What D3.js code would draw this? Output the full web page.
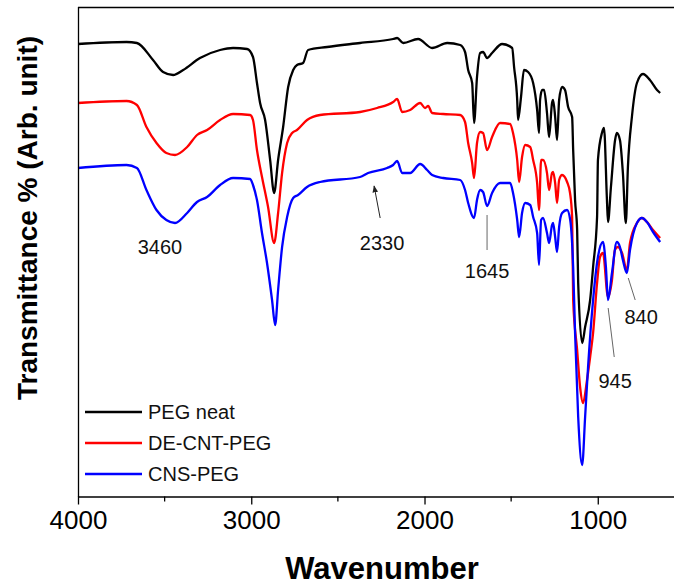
<!DOCTYPE html>
<html>
<head>
<meta charset="utf-8">
<script src="https://cdn.jsdelivr.net/npm/d3@7"></script>
<style>
  body { margin: 0; background: #fff; }
  svg { display: block; font-family: "Liberation Sans", Arial, sans-serif; }
</style>
</head>
<body>
<div id="chart"></div>
<script>
'use strict';

// FTIR spectra (wavenumber in cm-1, transmittance in arb. units)
var pegWn = [4000, 3720, 3660, 3567, 3509, 3451, 3393, 3296, 3180, 3105, 3024, 2990, 2967, 2949, 2920, 2891, 2868, 2845, 2816, 2787, 2758, 2736, 2701, 2672, 2562, 2372, 2181, 2158, 2123, 2037, 1956, 1869, 1794, 1766, 1748, 1725, 1714, 1697, 1679, 1662, 1639, 1610, 1552, 1494, 1483, 1465, 1460, 1443, 1426, 1402, 1373, 1350, 1339, 1333, 1321, 1310, 1293, 1281, 1264, 1258, 1246, 1235, 1223, 1206, 1189, 1171, 1148, 1142, 1131, 1119, 1113, 1090, 1073, 1044, 1027, 1004, 999, 976, 964, 947, 941, 924, 900, 890, 872, 855, 838, 826, 803, 774, 739, 699, 658, 640];
var pegT = [90.6, 91.0, 90.8, 87.4, 85.0, 84.4, 85.4, 87.8, 89.4, 89.8, 89.6, 88.0, 82.8, 78.8, 75.4, 67.4, 60.8, 67.4, 74.0, 82.0, 85.4, 86.4, 86.8, 89.4, 90.0, 90.8, 91.6, 91.8, 90.8, 91.6, 89.8, 90.8, 90.4, 89.0, 85.4, 82.8, 74.8, 84.0, 88.8, 89.0, 87.8, 88.8, 90.6, 89.8, 86.0, 79.4, 75.4, 80.0, 85.4, 85.0, 82.8, 77.4, 72.8, 79.4, 81.4, 81.4, 76.8, 72.0, 78.8, 79.4, 76.0, 71.4, 79.4, 82.0, 81.4, 78.0, 76.0, 69.4, 59.4, 53.4, 42.8, 30.8, 34.0, 39.4, 46.0, 56.0, 67.4, 72.8, 73.8, 59.4, 55.0, 62.0, 71.4, 72.8, 71.4, 64.8, 54.8, 66.0, 76.0, 82.8, 84.6, 83.4, 81.4, 80.8];

var decntWn = [4000, 3720, 3660, 3605, 3547, 3490, 3440, 3370, 3313, 3255, 3180, 3105, 3007, 2990, 2967, 2938, 2903, 2868, 2845, 2822, 2793, 2764, 2736, 2678, 2603, 2372, 2274, 2181, 2158, 2129, 2083, 2025, 1997, 1979, 1956, 1892, 1794, 1766, 1748, 1725, 1714, 1697, 1679, 1662, 1639, 1610, 1564, 1506, 1489, 1465, 1454, 1437, 1419, 1390, 1373, 1350, 1339, 1327, 1316, 1293, 1281, 1264, 1258, 1246, 1235, 1223, 1206, 1177, 1160, 1148, 1142, 1119, 1102, 1085, 1062, 1044, 1027, 1004, 987, 970, 941, 918, 901, 884, 860, 832, 814, 774, 745, 716, 681, 640];
var decntT = [78.8, 79.2, 78.4, 74.0, 70.8, 68.8, 68.4, 70.0, 72.4, 73.4, 75.4, 76.6, 76.4, 75.4, 69.4, 64.0, 58.0, 50.8, 56.8, 64.8, 70.8, 72.8, 73.4, 75.4, 76.4, 77.0, 77.8, 79.0, 79.6, 77.0, 77.4, 78.8, 77.8, 78.2, 76.8, 76.6, 76.4, 75.0, 70.8, 66.8, 63.8, 70.8, 73.0, 72.8, 69.4, 72.0, 74.8, 74.6, 72.8, 67.4, 63.0, 68.0, 70.4, 70.0, 67.4, 62.8, 57.4, 67.4, 67.4, 64.8, 61.4, 64.8, 65.0, 62.8, 58.8, 63.4, 64.4, 63.0, 60.8, 56.0, 39.4, 29.4, 22.0, 18.8, 23.4, 28.0, 32.8, 42.8, 48.0, 48.8, 40.0, 43.4, 49.4, 50.0, 48.8, 45.4, 50.8, 54.8, 55.8, 55.0, 53.4, 51.8];

var cnsWn = [4000, 3720, 3660, 3605, 3547, 3490, 3440, 3370, 3313, 3255, 3180, 3105, 3007, 2990, 2967, 2938, 2909, 2880, 2862, 2845, 2822, 2793, 2758, 2730, 2678, 2603, 2372, 2326, 2216, 2181, 2158, 2129, 2083, 2025, 1985, 1956, 1892, 1794, 1766, 1748, 1714, 1697, 1679, 1662, 1639, 1610, 1564, 1506, 1489, 1465, 1454, 1437, 1419, 1390, 1373, 1350, 1339, 1327, 1316, 1293, 1281, 1264, 1258, 1246, 1235, 1223, 1206, 1177, 1159, 1142, 1131, 1113, 1090, 1073, 1056, 1027, 999, 970, 953, 941, 918, 890, 872, 855, 832, 814, 774, 745, 716, 681, 640];
var cnsT = [65.8, 66.4, 65.8, 61.4, 57.4, 55.4, 54.8, 56.8, 59.0, 60.0, 62.4, 63.8, 63.6, 62.4, 59.4, 52.8, 46.8, 39.4, 34.4, 41.4, 50.0, 56.0, 59.8, 60.4, 62.0, 63.0, 64.0, 64.8, 65.8, 66.4, 67.2, 64.8, 64.8, 66.6, 65.4, 64.4, 63.8, 63.4, 61.4, 58.8, 55.8, 59.4, 61.4, 61.0, 58.2, 60.8, 62.8, 62.8, 60.8, 55.4, 52.0, 56.8, 58.8, 58.4, 56.0, 52.8, 46.4, 55.4, 55.8, 52.8, 50.8, 54.4, 54.8, 52.0, 49.0, 54.0, 56.8, 57.4, 55.4, 46.0, 32.8, 16.0, 6.4, 16.0, 26.0, 39.4, 48.0, 51.0, 46.0, 39.4, 44.8, 51.0, 50.0, 47.4, 44.8, 49.4, 54.8, 55.8, 55.0, 53.0, 51.0];

var seriesNames = ['PEG neat', 'DE-CNT-PEG', 'CNS-PEG'];
var seriesColors = ['#000000', '#ff0000', '#0000ff'];

var xTicks = [4000, 3000, 2000, 1000];
var xMinorTicks = [3500, 2500, 1500];

// peak labels: text, label position, leader line (from -> to), arrow or not
var peakText = ['3460', '2330', '1645', '945', '840'];
var peakLabelWn = [3527, 2245, 1639, 900, 750];
var peakLabelT = [48.6, 49.4, 43.8, 21.8, 34.6];
var peakLineFrom = [null, [2256, 55.8], [1639, 49.4], [905, 28.0], [784, 39.4]];
var peakLineTo = [null, [2291, 62.2], [1639, 56.4], [940, 37.8], [824, 43.8]];
var peakArrow = [false, true, false, false, false];

(function () {
	var width = 674;
	var height = 588;
	var margin = { top: 7, right: 0, bottom: 91, left: 78 };

	var svg = d3.select('#chart')
		.append('svg')
			.attr('width', width)
			.attr('height', height);

	var x = d3.scaleLinear()
		.domain([4000, 560])
		.range([margin.left, width - margin.right]);

	var y = d3.scaleLinear()
		.domain([0, 98])
		.range([height - margin.bottom, margin.top]);

	var series = [
		{ wn: pegWn, t: pegT },
		{ wn: decntWn, t: decntT },
		{ wn: cnsWn, t: cnsT }
	].map(function (s, i) {
		return {
			name: seriesNames[i],
			color: seriesColors[i],
			values: s.wn.map(function (w, j) { return { wn: w, t: s.t[j] }; })
		};
	});

	var line = d3.line()
		.x(function (d) { return x(d.wn); })
		.y(function (d) { return y(d.t); })
		.curve(d3.curveMonotoneX);

	svg.append('defs')
		.append('marker')
			.attr('id', 'arrow')
			.attr('viewBox', '0 0 10 10')
			.attr('refX', 9)
			.attr('refY', 5)
			.attr('markerWidth', 7)
			.attr('markerHeight', 7)
			.attr('orient', 'auto')
		.append('path')
			.attr('d', 'M0,1 L10,5 L0,9 Z')
			.attr('fill', '#222');

	// spectra
	svg.append('g')
		.selectAll('path')
		.data(series)
		.enter()
		.append('path')
			.attr('d', function (d) { return line(d.values); })
			.attr('fill', 'none')
			.attr('stroke', function (d) { return d.color; })
			.attr('stroke-width', 2.3)
			.attr('stroke-linejoin', 'round');

	// frame: top, left, bottom
	var x0 = margin.left;
	var y0 = height - margin.bottom;
	svg.append('line')
		.attr('x1', x0).attr('x2', width)
		.attr('y1', margin.top + 0.5).attr('y2', margin.top + 0.5)
		.attr('stroke', '#000').attr('stroke-width', 1.3);
	svg.append('line')
		.attr('x1', x0 + 0.5).attr('x2', x0 + 0.5)
		.attr('y1', margin.top).attr('y2', y0)
		.attr('stroke', '#000').attr('stroke-width', 1.3);

	var xAxis = svg.append('g')
		.attr('transform', 'translate(0,' + (y0 - 0.5) + ')')
		.call(d3.axisBottom(x)
			.tickValues(xTicks)
			.tickSize(8)
			.tickSizeOuter(0)
			.tickPadding(6)
			.tickFormat(d3.format('d')));
	xAxis.select('.domain').attr('stroke-width', 1.3);
	xAxis.selectAll('.tick line').attr('stroke-width', 1.3);
	xAxis.selectAll('.tick text')
		.attr('font-size', 26)
		.attr('font-family', '"Liberation Sans", Arial, sans-serif')
		.attr('fill', '#000');

	xAxis.selectAll('.minor')
		.data(xMinorTicks)
		.enter()
		.append('line')
			.attr('class', 'minor')
			.attr('x1', function (d) { return x(d); })
			.attr('x2', function (d) { return x(d); })
			.attr('y1', 0)
			.attr('y2', 5)
			.attr('stroke', '#000')
			.attr('stroke-width', 1.3);

	// axis titles
	svg.append('text')
		.attr('x', 382)
		.attr('y', 579)
		.attr('text-anchor', 'middle')
		.attr('font-size', 31)
		.attr('font-weight', 'bold')
		.text('Wavenumber');

	svg.append('text')
		.attr('transform', 'translate(37,218) rotate(-90)')
		.attr('text-anchor', 'middle')
		.attr('font-size', 28)
		.attr('font-weight', 'bold')
		.text('Transmittance % (Arb. unit)');

	// peak labels
	var peaks = svg.append('g');
	peakText.forEach(function (txt, i) {
		if (peakLineFrom[i]) {
			var l = peaks.append('line')
				.attr('x1', x(peakLineFrom[i][0]))
				.attr('y1', y(peakLineFrom[i][1]))
				.attr('x2', x(peakLineTo[i][0]))
				.attr('y2', y(peakLineTo[i][1]))
				.attr('stroke', peakArrow[i] ? '#222' : '#666')
				.attr('stroke-width', 1);
			if (peakArrow[i]) l.attr('marker-end', 'url(#arrow)');
		}
		peaks.append('text')
			.attr('x', x(peakLabelWn[i]))
			.attr('y', y(peakLabelT[i]))
			.attr('text-anchor', 'middle')
			.attr('font-size', 20)
			.attr('fill', '#111')
			.text(txt);
	});

	// legend
	var legend = svg.append('g')
		.attr('transform', 'translate(85,412)');

	var item = legend.selectAll('g')
		.data(series)
		.enter()
		.append('g')
			.attr('transform', function (d, i) { return 'translate(0,' + (i * 31) + ')'; });

	item.append('line')
		.attr('x1', 0).attr('x2', 57)
		.attr('y1', 0).attr('y2', 0)
		.attr('stroke', function (d) { return d.color; })
		.attr('stroke-width', 2.3);

	item.append('text')
		.attr('x', 63)
		.attr('y', 7)
		.attr('font-size', 20)
		.attr('fill', '#111')
		.text(function (d) { return d.name; });
})();
</script>
</body>
</html>
